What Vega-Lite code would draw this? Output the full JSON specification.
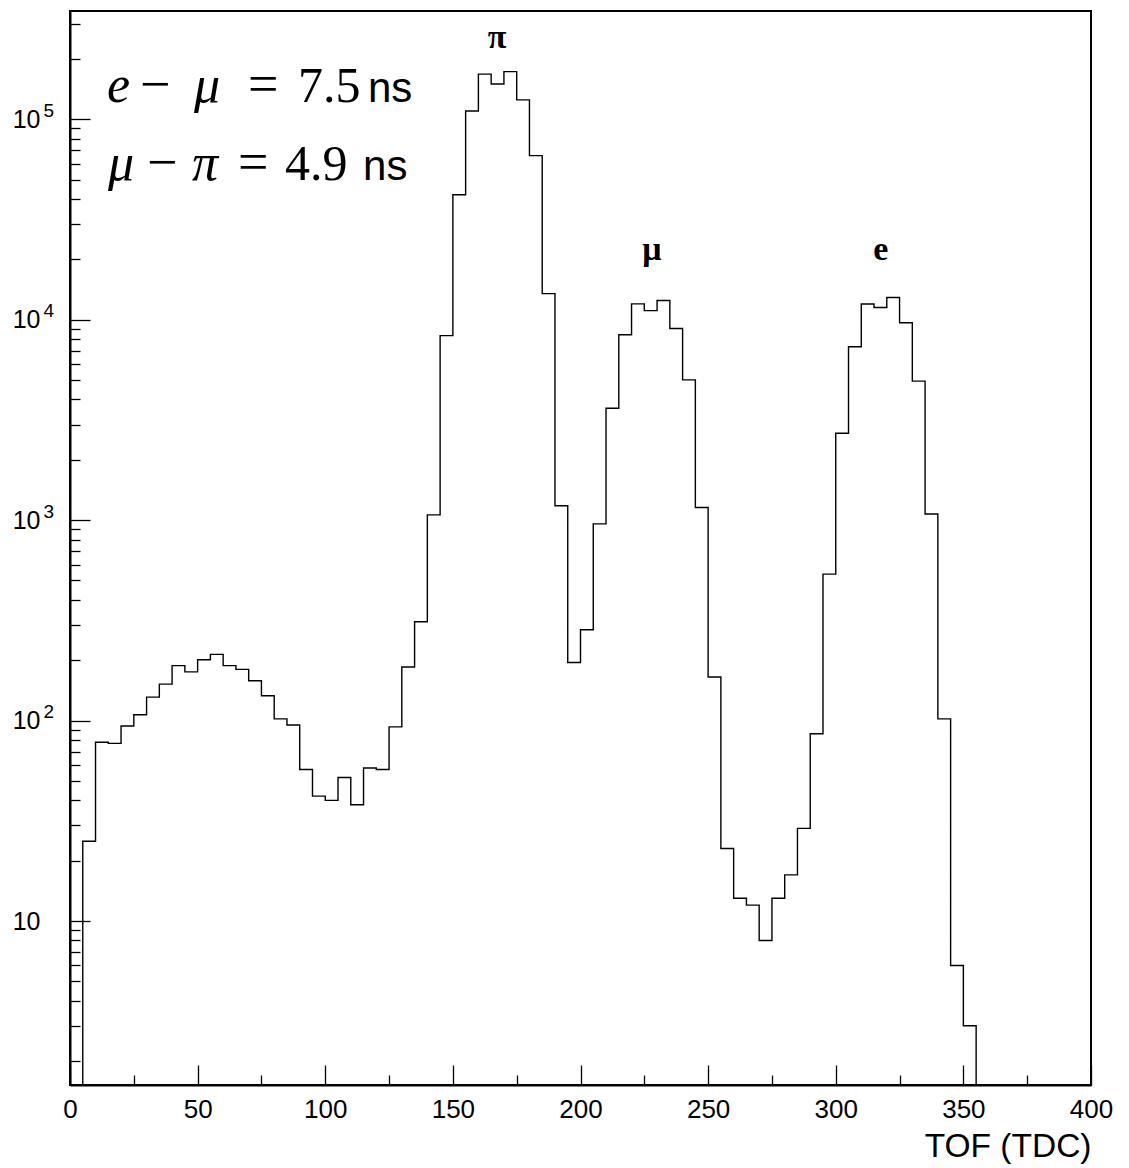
{
  "$schema": "https://vega.github.io/schema/vega-lite/v6.json",
  "width": 1021,
  "height": 1074,
  "autosize": {"type": "none"},
  "padding": {"left": 70, "top": 11, "right": 38, "bottom": 83},
  "background": "white",
  "config": {
    "view": {"stroke": "black", "strokeWidth": 2},
    "axis": {"grid": false, "domainColor": "black", "tickColor": "black", "labelColor": "black", "titleColor": "black", "labelFont": "Liberation Sans", "titleFont": "Liberation Sans", "labelOverlap": false, "labelFlush": false}
  },
  "datasets": {
    "hist": [
      {"lo": 5, "hi": 10, "n": 25}, {"lo": 10, "hi": 15, "n": 78}, {"lo": 15, "hi": 20, "n": 77},
      {"lo": 20, "hi": 25, "n": 94}, {"lo": 25, "hi": 30, "n": 107}, {"lo": 30, "hi": 35, "n": 131},
      {"lo": 35, "hi": 40, "n": 152}, {"lo": 40, "hi": 45, "n": 188}, {"lo": 45, "hi": 50, "n": 175},
      {"lo": 50, "hi": 55, "n": 201}, {"lo": 55, "hi": 60, "n": 214}, {"lo": 60, "hi": 65, "n": 188},
      {"lo": 65, "hi": 70, "n": 180}, {"lo": 70, "hi": 75, "n": 158}, {"lo": 75, "hi": 80, "n": 133},
      {"lo": 80, "hi": 85, "n": 102}, {"lo": 85, "hi": 90, "n": 95}, {"lo": 90, "hi": 95, "n": 57},
      {"lo": 95, "hi": 100, "n": 42}, {"lo": 100, "hi": 105, "n": 40}, {"lo": 105, "hi": 110, "n": 52},
      {"lo": 110, "hi": 115, "n": 38}, {"lo": 115, "hi": 120, "n": 58}, {"lo": 120, "hi": 125, "n": 57},
      {"lo": 125, "hi": 130, "n": 93}, {"lo": 130, "hi": 135, "n": 185}, {"lo": 135, "hi": 140, "n": 311},
      {"lo": 140, "hi": 145, "n": 1062}, {"lo": 145, "hi": 150, "n": 8330}, {"lo": 150, "hi": 155, "n": 42000},
      {"lo": 155, "hi": 160, "n": 110000}, {"lo": 160, "hi": 165, "n": 168000}, {"lo": 165, "hi": 170, "n": 150000},
      {"lo": 170, "hi": 175, "n": 173000}, {"lo": 175, "hi": 180, "n": 125000}, {"lo": 180, "hi": 185, "n": 65900},
      {"lo": 185, "hi": 190, "n": 13500}, {"lo": 190, "hi": 195, "n": 1180}, {"lo": 195, "hi": 200, "n": 195},
      {"lo": 200, "hi": 205, "n": 284}, {"lo": 205, "hi": 210, "n": 958}, {"lo": 210, "hi": 215, "n": 3620},
      {"lo": 215, "hi": 220, "n": 8410}, {"lo": 220, "hi": 225, "n": 12000}, {"lo": 225, "hi": 230, "n": 11100},
      {"lo": 230, "hi": 235, "n": 12480}, {"lo": 235, "hi": 240, "n": 9040}, {"lo": 240, "hi": 245, "n": 5010},
      {"lo": 245, "hi": 250, "n": 1156}, {"lo": 250, "hi": 255, "n": 165}, {"lo": 255, "hi": 260, "n": 23},
      {"lo": 260, "hi": 265, "n": 13}, {"lo": 265, "hi": 270, "n": 12}, {"lo": 270, "hi": 275, "n": 8},
      {"lo": 275, "hi": 280, "n": 13}, {"lo": 280, "hi": 285, "n": 17}, {"lo": 285, "hi": 290, "n": 29},
      {"lo": 290, "hi": 295, "n": 86}, {"lo": 295, "hi": 300, "n": 538}, {"lo": 300, "hi": 305, "n": 2716},
      {"lo": 305, "hi": 310, "n": 7330}, {"lo": 310, "hi": 315, "n": 11990}, {"lo": 315, "hi": 320, "n": 11500},
      {"lo": 320, "hi": 325, "n": 12900}, {"lo": 325, "hi": 330, "n": 9660}, {"lo": 330, "hi": 335, "n": 4940},
      {"lo": 335, "hi": 340, "n": 1074}, {"lo": 340, "hi": 345, "n": 102}, {"lo": 345, "hi": 350, "n": 6},
      {"lo": 350, "hi": 355, "n": 3}
    ],
    "peaks": [
      {"t": "π", "x": 167.3, "y": 255000},
      {"t": "μ", "x": 228, "y": 22300},
      {"t": "e", "x": 317.6, "y": 22300}
    ],
    "math": [
      {"t": "e", "x": 14.5, "y": 122300, "kind": "it"},
      {"t": "−", "x": 27.4, "y": 122300, "kind": "op"},
      {"t": "μ", "x": 48.6, "y": 122300, "kind": "it"},
      {"t": "=", "x": 69.7, "y": 122300, "kind": "op"},
      {"t": "7.5", "x": 89.3, "y": 122300, "kind": "rm"},
      {"t": "ns", "x": 116.7, "y": 122300, "kind": "sf"},
      {"t": "μ", "x": 14.9, "y": 49900, "kind": "it"},
      {"t": "−", "x": 30.2, "y": 49900, "kind": "op"},
      {"t": "π", "x": 47.8, "y": 49900, "kind": "it"},
      {"t": "=", "x": 65.8, "y": 49900, "kind": "op"},
      {"t": "4.9", "x": 84.2, "y": 49900, "kind": "rm"},
      {"t": "ns", "x": 114.8, "y": 49900, "kind": "sf"}
    ]
  },
  "layer": [
    {
      "data": {"name": "hist"},
      "transform": [{"fold": ["lo", "hi"], "as": ["edge", "x"]}],
      "mark": {"type": "area", "fillOpacity": 0, "stroke": "black", "strokeWidth": 1.4, "interpolate": "linear", "clip": true},
      "encoding": {
        "x": {
          "field": "x", "type": "quantitative",
          "scale": {"domain": [0, 400], "nice": false, "zero": false},
          "axis": {
            "orient": "bottom", "values": [0, 25, 50, 75, 100, 125, 150, 175, 200, 225, 250, 275, 300, 325, 350, 375, 400],
            "labels": false, "title": null, "domainWidth": 2, "tickWidth": 1.3,
            "tickSize": {"condition": {"test": "datum.value % 50 === 0", "value": -20}, "value": -10}
          }
        },
        "y": {
          "field": "n", "type": "quantitative", "stack": null,
          "scale": {"type": "log", "domain": [1.52, 347000], "nice": false},
          "axis": {
            "orient": "left",
            "values": [2, 3, 4, 5, 6, 7, 8, 9, 10, 20, 30, 40, 50, 60, 70, 80, 90, 100, 200, 300, 400, 500, 600, 700, 800, 900, 1000, 2000, 3000, 4000, 5000, 6000, 7000, 8000, 9000, 10000, 20000, 30000, 40000, 50000, 60000, 70000, 80000, 90000, 100000, 200000, 300000],
            "labels": false, "title": null, "domainWidth": 2, "tickWidth": 1.3,
            "tickSize": {"condition": {"test": "indexof([10, 100, 1000, 10000, 100000], datum.value) >= 0", "value": -20}, "value": -10}
          }
        }
      }
    },
    {
      "data": {"name": "peaks"},
      "mark": {"type": "text", "font": "Liberation Serif", "fontWeight": "bold", "fontSize": 34, "align": "center", "baseline": "middle", "color": "black"},
      "encoding": {
        "x": {
          "field": "x", "type": "quantitative",
          "scale": {"domain": [0, 400], "nice": false, "zero": false},
          "axis": {
            "orient": "bottom", "values": [0, 50, 100, 150, 200, 250, 300, 350, 400],
            "ticks": false, "domain": false, "labelFontSize": 26, "labelPadding": 11,
            "title": "TOF (TDC)", "titleAnchor": "end", "titleAlign": "right", "titleFontSize": 33.5,
            "titleFontWeight": "normal", "titleBaseline": "alphabetic", "titleY": 71
          }
        },
        "y": {
          "field": "y", "type": "quantitative",
          "scale": {"type": "log", "domain": [1.52, 347000], "nice": false},
          "axis": {
            "orient": "left", "values": [10, 100, 1000, 10000, 100000], "ticks": false, "domain": false,
            "labelExpr": "'10'", "labelFontSize": 25, "labelPadding": 30, "labelAlign": "right", "labelBaseline": "middle", "title": null
          }
        },
        "text": {"field": "t"}
      }
    },
    {
      "data": {"name": "math"},
      "transform": [{"filter": "datum.kind === 'it'"}],
      "mark": {"type": "text", "font": "Liberation Serif", "fontStyle": "italic", "fontSize": 52, "align": "left", "baseline": "alphabetic", "color": "black"},
      "encoding": {
        "x": {"field": "x", "type": "quantitative", "scale": {"domain": [0, 400], "nice": false, "zero": false}, "axis": null},
        "y": {
          "field": "y", "type": "quantitative",
          "scale": {"type": "log", "domain": [1.52, 347000], "nice": false},
          "axis": {
            "orient": "left", "values": [10, 100, 1000, 10000, 100000], "ticks": false, "domain": false,
            "labelExpr": "datum.value < 50 ? '' : format(log(datum.value) / LN10, '.0f')",
            "labelFontSize": 19, "labelPadding": 27, "labelAlign": "left", "labelBaseline": "middle", "labelOffset": -9, "title": null
          }
        },
        "text": {"field": "t"}
      }
    },
    {
      "data": {"name": "math"},
      "transform": [{"filter": "datum.kind === 'rm'"}],
      "mark": {"type": "text", "font": "Liberation Serif", "fontSize": 50, "align": "left", "baseline": "alphabetic", "color": "black"},
      "encoding": {
        "x": {"field": "x", "type": "quantitative", "scale": {"domain": [0, 400], "nice": false, "zero": false}, "axis": null},
        "y": {"field": "y", "type": "quantitative", "scale": {"type": "log", "domain": [1.52, 347000], "nice": false}, "axis": null},
        "text": {"field": "t"}
      }
    },
    {
      "data": {"name": "math"},
      "transform": [{"filter": "datum.kind === 'op'"}],
      "mark": {"type": "text", "font": "Liberation Serif", "fontSize": 54, "align": "left", "baseline": "alphabetic", "color": "black"},
      "encoding": {
        "x": {"field": "x", "type": "quantitative", "scale": {"domain": [0, 400], "nice": false, "zero": false}, "axis": null},
        "y": {"field": "y", "type": "quantitative", "scale": {"type": "log", "domain": [1.52, 347000], "nice": false}, "axis": null},
        "text": {"field": "t"}
      }
    },
    {
      "data": {"name": "math"},
      "transform": [{"filter": "datum.kind === 'sf'"}],
      "mark": {"type": "text", "font": "Liberation Sans", "fontSize": 42, "align": "left", "baseline": "alphabetic", "color": "black"},
      "encoding": {
        "x": {"field": "x", "type": "quantitative", "scale": {"domain": [0, 400], "nice": false, "zero": false}, "axis": null},
        "y": {"field": "y", "type": "quantitative", "scale": {"type": "log", "domain": [1.52, 347000], "nice": false}, "axis": null},
        "text": {"field": "t"}
      }
    }
  ],
  "resolve": {"axis": {"x": "independent", "y": "independent"}}
}
